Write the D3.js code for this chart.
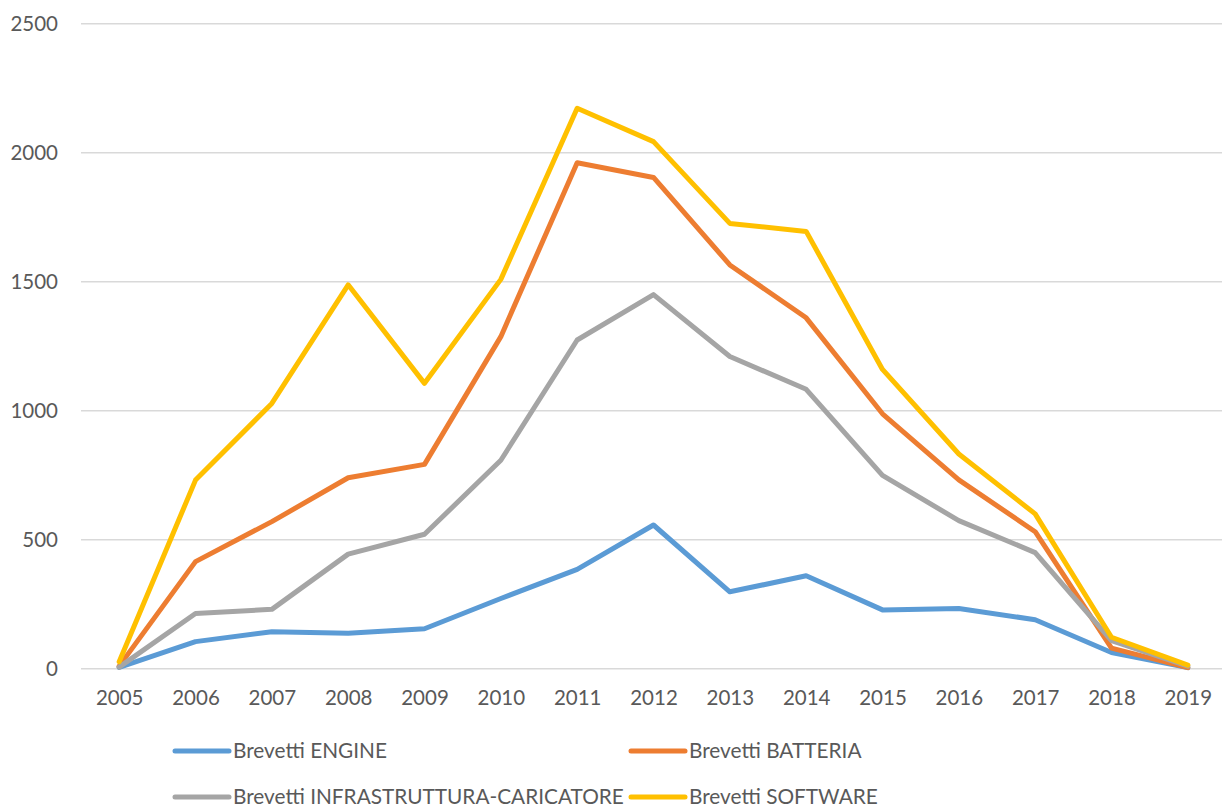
<!DOCTYPE html>
<html>
<head>
<meta charset="utf-8">
<script src="https://cdn.jsdelivr.net/npm/d3@7"></script>
<style>
  html, body { margin: 0; padding: 0; background: #fff; }
  svg { display: block; }
</style>
</head>
<body>
<svg id="chart" width="1222" height="807"></svg>
<script>
const years = ["2005","2006","2007","2008","2009","2010","2011","2012","2013","2014","2015","2016","2017","2018","2019"];
const engine   = [5, 105, 143, 137, 155, 272, 385, 557, 298, 360, 228, 233, 190, 63, 4];
const batteria = [10, 415, 570, 740, 792, 1287, 1961, 1904, 1565, 1360, 988, 732, 531, 80, 4];
const infra    = [6, 214, 230, 444, 521, 808, 1274, 1450, 1210, 1083, 749, 574, 450, 109, 10];
const software = [27, 731, 1028, 1488, 1106, 1509, 2172, 2043, 1726, 1695, 1160, 832, 600, 122, 14];
const yTicks = [0, 500, 1000, 1500, 2000, 2500];
const seriesNames = ["Brevetti ENGINE", "Brevetti BATTERIA", "Brevetti INFRASTRUTTURA-CARICATORE", "Brevetti SOFTWARE"];
const seriesColors = ["#5B9BD5", "#ED7D31", "#A5A5A5", "#FFC000"];

const series = [engine, batteria, infra, software].map((vals, i) => ({
  name: seriesNames[i], color: seriesColors[i], values: vals
}));

const svg = d3.select("#chart");
const font = "Lato, 'Open Sans', sans-serif";
const textColor = "#595959";

const x = d3.scalePoint().domain(years).range([81, 1226]).padding(0.5);
const y = d3.scaleLinear().domain([0, 2500]).range([668.7, 23.7]);

// gridlines
svg.append("g").selectAll("line").data(yTicks).join("line")
  .attr("x1", 81).attr("x2", 1222)
  .attr("y1", d => y(d)).attr("y2", d => y(d))
  .attr("stroke", "#D9D9D9").attr("stroke-width", 1.5);

// y axis labels
const yAxis = d3.axisLeft(y).tickValues(yTicks).tickFormat(d3.format("d")).tickSize(0).tickPadding(0);
const yg = svg.append("g").attr("transform", "translate(58,0)").call(yAxis);
yg.select(".domain").remove();
yg.selectAll("text").attr("font-family", font).attr("font-size", 20.5).attr("fill", textColor).attr("dy", "0.35em");

// x axis labels
const xAxis = d3.axisBottom(x).tickSize(0).tickPadding(0);
const xg = svg.append("g").attr("transform", "translate(0,698)").call(xAxis);
xg.select(".domain").remove();
xg.selectAll("text").attr("font-family", font).attr("font-size", 20.5).attr("fill", textColor).attr("dy", "0.35em");

// lines
const line = d3.line().x((d, i) => x(years[i])).y(d => y(d));
svg.append("g").selectAll("path").data(series).join("path")
  .attr("d", d => line(d.values))
  .attr("fill", "none")
  .attr("stroke", d => d.color)
  .attr("stroke-width", 5)
  .attr("stroke-linejoin", "round")
  .attr("stroke-linecap", "round");

// legend
const legendPos = [[173, 751], [629, 751], [173, 797], [629, 797]];
const lg = svg.append("g").selectAll("g").data(series).join("g")
  .attr("transform", (d, i) => `translate(${legendPos[i][0]},${legendPos[i][1]})`);
lg.append("line").attr("x1", 2).attr("x2", 56).attr("y1", 0).attr("y2", 0)
  .attr("stroke", d => d.color).attr("stroke-width", 5).attr("stroke-linecap", "round");
lg.append("text").attr("x", 60).attr("y", 0).attr("dy", "0.35em")
  .attr("font-family", font).attr("font-size", 20.8).attr("fill", textColor)
  .text(d => d.name);
</script>
</body>
</html>
